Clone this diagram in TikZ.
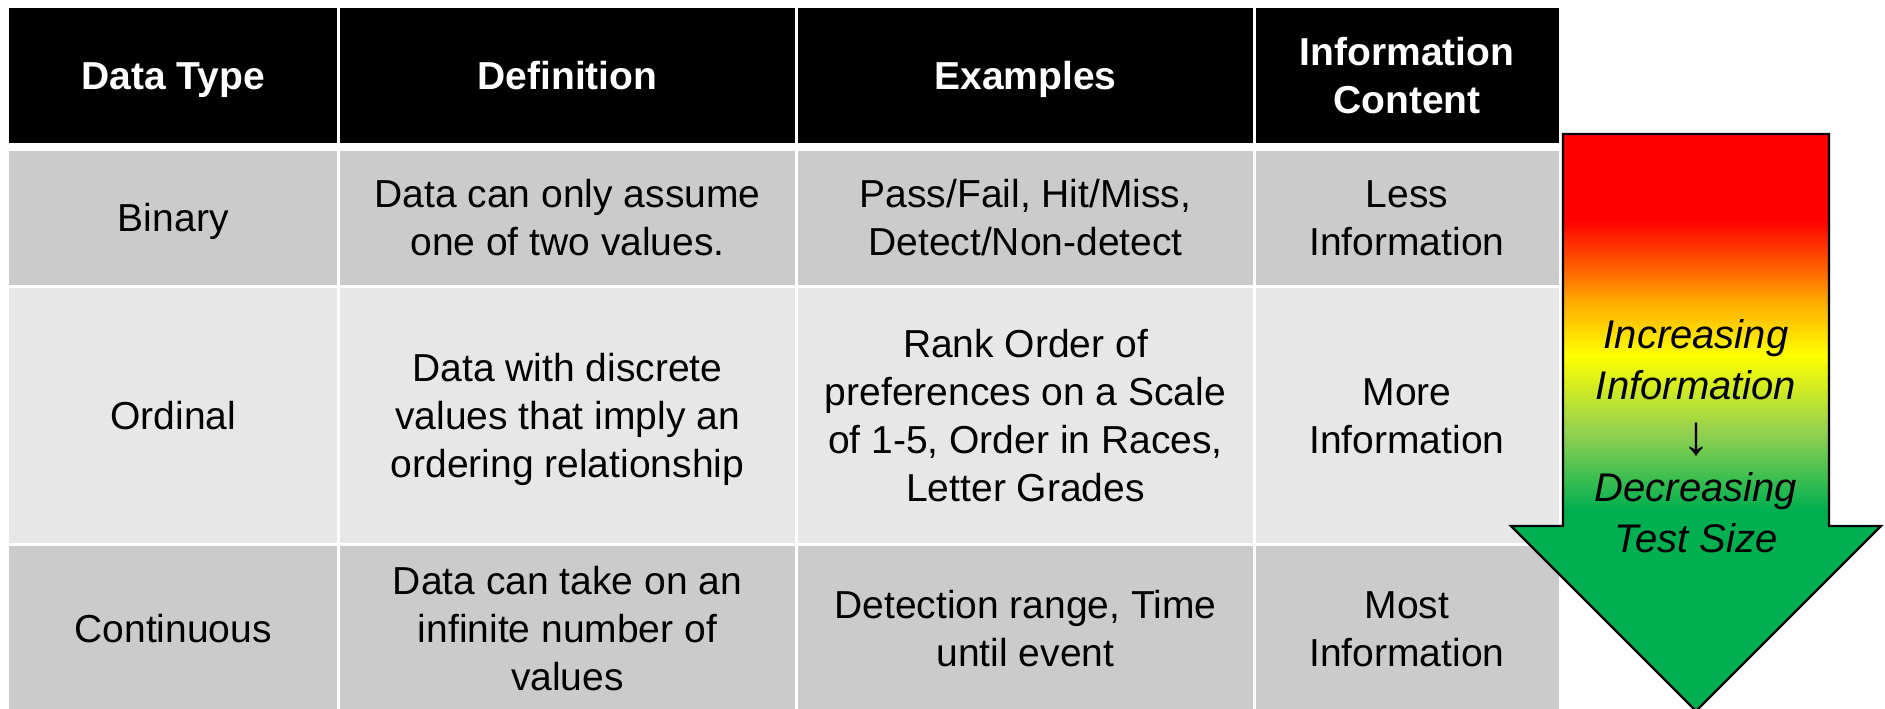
\documentclass[tikz,border=0pt]{standalone}
\usepackage{fontspec}
\setmainfont{Liberation Sans}
\definecolor{bandA}{HTML}{CBCBCB}
\definecolor{bandB}{HTML}{E7E7E7}
\definecolor{aRed}{HTML}{FF0000}
\definecolor{aOrange}{HTML}{FF6400}
\definecolor{aAmber}{HTML}{FFA800}
\definecolor{aYellow}{HTML}{FFFF00}
\definecolor{aLime}{HTML}{92D050}
\definecolor{aGreen}{HTML}{00B050}
% vertical colour ramp for the arrow (25bp = tip, 75bp = top)
\pgfdeclareverticalshading{arrowramp}{100bp}{%
  color(0bp)=(aGreen); color(42.4bp)=(aGreen); color(49.1bp)=(aLime);
  color(55.85bp)=(aYellow); color(60.6bp)=(aAmber); color(63.2bp)=(aOrange);
  color(67.55bp)=(aRed); color(100bp)=(aRed)}
% struts that keep every text block centred like the cell text
\newcommand\cstrut{\rule[-9.6pt]{0pt}{46.6pt}}
\newcommand\astrut{\rule[-10pt]{0pt}{48pt}}
\begin{document}
\begin{tikzpicture}[x=1pt,y=-1pt,
  cell/.style={align=center, inner sep=0pt, text=black,
    font=\fontsize{39}{48}\selectfont},
  headcell/.style={align=center, inner sep=0pt, text=white,
    font=\bfseries\fontsize{39}{48}\selectfont},
  sep/.style={white, line width=2.5pt},
  arrowtext/.style={align=center, inner sep=0pt, text=black,
    font=\itshape\fontsize{40}{51}\selectfont}]
\useasboundingbox (0,0) rectangle (1885,709);

% table backgrounds
\fill[black] (9,8) rectangle (1559,143);
\fill[bandA] (9,151) rectangle (1559,286.5);
\fill[bandB] (9,286.5) rectangle (1559,544.5);
\fill[bandA] (9,544.5) rectangle (1559,712);

% white cell borders
\foreach \xx in {338.5,796.5,1254.5}
  \draw[sep] (\xx,8) -- (\xx,712);
\draw[sep] (9,286.5) -- (1559,286.5);
\draw[sep] (9,544.5) -- (1559,544.5);

% header row
\node[headcell] (h1) at (173.25,75.5) {\cstrut Data Type};
\node[headcell] (h2) at (567.5,75.5) {\cstrut Definition};
\node[headcell] (h3) at (1025.5,75.5) {\cstrut Examples};
\node[headcell] (h4) at (1407,75.5) {\cstrut Information\\\cstrut Content};

% binary
\node[cell] (b1) at (173.25,218) {\cstrut Binary};
\node[cell] (b2) at (567.5,218) {\cstrut Data can only assume\\\cstrut one of two values.};
\node[cell] (b3) at (1025.5,218) {\cstrut Pass/Fail, Hit/Miss,\\\cstrut Detect/Non-detect};
\node[cell] (b4) at (1407,218) {\cstrut Less\\\cstrut Information};

% ordinal
\node[cell] (o1) at (173.25,415.5) {\cstrut Ordinal};
\node[cell] (o2) at (567.5,415.5) {\cstrut Data with discrete\\\cstrut values that imply an\\\cstrut ordering relationship};
\node[cell] (o3) at (1025.5,415.5) {\cstrut Rank Order of\\\cstrut preferences on a Scale\\\cstrut of 1-5, Order in Races,\\\cstrut Letter Grades};
\node[cell] (o4) at (1407,415.5) {\cstrut More\\\cstrut Information};

% continuous
\node[cell] (c1) at (173.25,628.5) {\cstrut Continuous};
\node[cell] (c2) at (567.5,628.5) {\cstrut Data can take on an\\\cstrut infinite number of\\\cstrut values};
\node[cell] (c3) at (1025.5,628.5) {\cstrut Detection range, Time\\\cstrut until event};
\node[cell] (c4) at (1407,628.5) {\cstrut Most\\\cstrut Information};

% gradient block arrow
\shadedraw[shading=arrowramp, draw=black, line width=2.2pt, line join=miter]
  (1563,134) -- (1829,134) -- (1829,526) -- (1881,526) -- (1696,711)
  -- (1511,526) -- (1563,526) -- cycle;
\node[arrowtext] (trend) at (1696,436)
  {\astrut Increasing\\\astrut Information\\
   \astrut\raisebox{-4pt}{\upshape\fontsize{56}{51}\selectfont ↓}\\
   \astrut Decreasing\\\astrut Test Size};
\end{tikzpicture}
\end{document}
